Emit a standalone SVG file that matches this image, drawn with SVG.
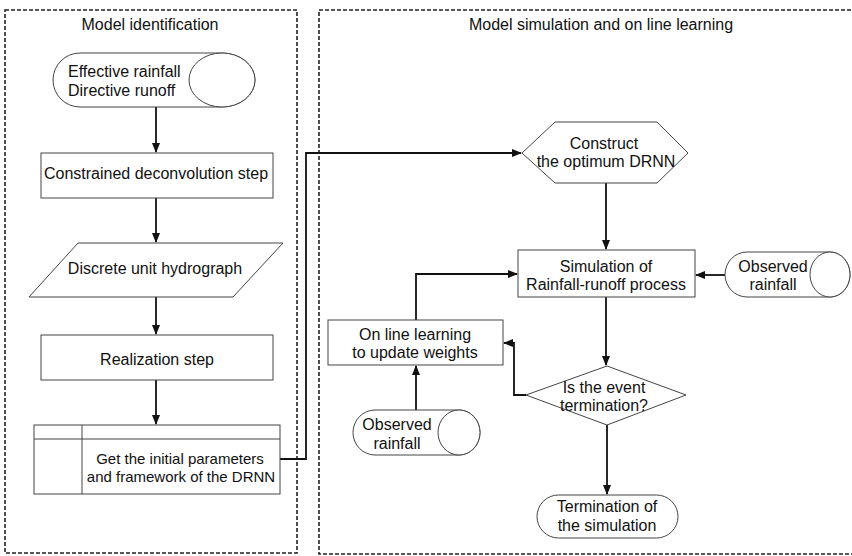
<svg xmlns="http://www.w3.org/2000/svg" width="852" height="556" viewBox="0 0 852 556">
<style>
text{font-family:"Liberation Sans",Arial,sans-serif;font-size:16px;fill:#111;text-anchor:middle}
.frame{fill:none;stroke:#222;stroke-width:1.6;stroke-dasharray:4 2}
.shape{fill:#fff;stroke:#444;stroke-width:1}
.conn{fill:none;stroke:#111;stroke-width:1.8}
.small{font-size:15px}
</style>
<defs>
<marker id="ah" markerWidth="10" markerHeight="8" refX="9" refY="4" orient="auto" markerUnits="userSpaceOnUse">
<path d="M0,0 L10,4 L0,8 Z" fill="#111"/>
</marker>
</defs>
<rect width="852" height="556" fill="#fff"/>
<g id="frame-identification">
<rect class="frame" x="5" y="10" width="292" height="543"/>
<text x="150" y="30">Model identification</text>
</g>
<g id="frame-simulation">
<rect class="frame" x="319" y="10" width="545" height="544"/>
<text x="601" y="30">Model simulation and on line learning</text>
</g>
<g id="connectors">
<path class="conn" d="M156,107 V152" marker-end="url(#ah)"/>
<path class="conn" d="M156,198 V242" marker-end="url(#ah)"/>
<path class="conn" d="M156,297 V334" marker-end="url(#ah)"/>
<path class="conn" d="M156,380 V424" marker-end="url(#ah)"/>
<path class="conn" d="M280,459 H306 V153 H521" marker-end="url(#ah)"/>
<path class="conn" d="M606,183 V249" marker-end="url(#ah)"/>
<path class="conn" d="M725,275 H696" marker-end="url(#ah)"/>
<path class="conn" d="M606,297 V365" marker-end="url(#ah)"/>
<path class="conn" d="M526,395 H514 V343 H504" marker-end="url(#ah)"/>
<path class="conn" d="M416,320 V274 H517" marker-end="url(#ah)"/>
<path class="conn" d="M416,410 V366" marker-end="url(#ah)"/>
<path class="conn" d="M607,425 V494" marker-end="url(#ah)"/>
</g>
<g id="input-effective">
<path class="shape" d="M80,53 H222 A33,27 0 0 1 222,107 H80 A27,27 0 0 1 80,53 Z"/>
<ellipse class="shape" cx="222" cy="80" rx="33" ry="27"/>
<text x="68" y="77" style="text-anchor:start">Effective rainfall</text>
<text x="68" y="96" style="text-anchor:start">Directive runoff</text>
</g>
<g id="deconvolution">
<rect class="shape" x="41" y="153" width="232" height="45"/>
<text x="156" y="179">Constrained deconvolution step</text>
</g>
<g id="unit-hydrograph">
<path class="shape" d="M78,243 H283 L233,297 H29 Z"/>
<text x="155" y="274">Discrete unit hydrograph</text>
</g>
<g id="realization">
<rect class="shape" x="41" y="335" width="232" height="45"/>
<text x="157" y="365">Realization step</text>
</g>
<g id="initial-params">
<rect class="shape" x="34" y="425" width="246" height="69"/>
<path class="shape" d="M34,439 H280 M82,425 V494" fill="none"/>
<text class="small" x="180" y="464">Get the initial parameters</text>
<text class="small" x="181" y="482">and framework of the DRNN</text>
</g>
<g id="construct">
<path class="shape" d="M522,153 L555,122 H657 L688,153 L657,183 H555 Z"/>
<text x="604" y="149">Construct</text>
<text x="606" y="167">the optimum DRNN</text>
</g>
<g id="simulation">
<rect class="shape" x="518" y="250" width="177" height="47"/>
<text x="606" y="272">Simulation of</text>
<text x="606" y="290">Rainfall-runoff process</text>
</g>
<g id="observed-right">
<path class="shape" d="M747,252 H830 A20,22.5 0 0 1 830,297 H747 A22,22.5 0 0 1 747,252 Z"/>
<ellipse class="shape" cx="830" cy="274.5" rx="20" ry="22.5"/>
<text x="773" y="272">Observed</text>
<text x="773" y="290">rainfall</text>
</g>
<g id="online-learning">
<rect class="shape" x="328" y="320" width="175" height="45"/>
<text x="415" y="340">On line learning</text>
<text x="415" y="358">to update weights</text>
</g>
<g id="event-termination">
<path class="shape" d="M607,366 L686,395 L607,425 L526,395 Z"/>
<text x="604" y="393">Is the event</text>
<text x="604" y="411">termination?</text>
</g>
<g id="observed-lower">
<path class="shape" d="M375,410 H459 A21,22.5 0 0 1 459,455 H375 A22,22.5 0 0 1 375,410 Z"/>
<ellipse class="shape" cx="459" cy="432.5" rx="21" ry="22.5"/>
<text x="397" y="430">Observed</text>
<text x="397" y="449">rainfall</text>
</g>
<g id="termination">
<rect class="shape" x="537" y="495" width="141" height="43" rx="21.5" ry="21.5"/>
<text x="607" y="512">Termination of</text>
<text x="607" y="531">the simulation</text>
</g>
</svg>
